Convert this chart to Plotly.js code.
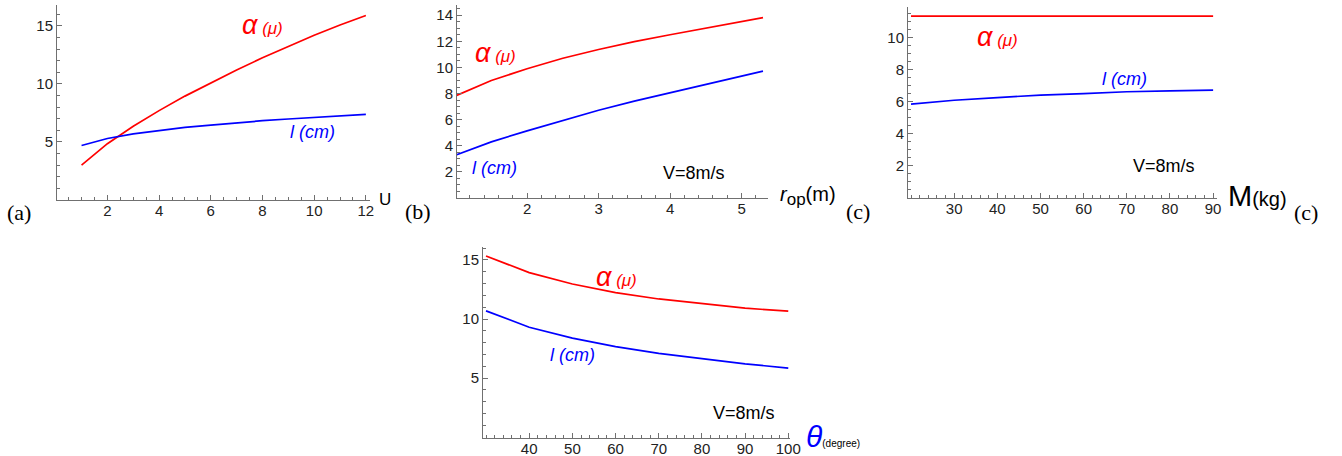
<!DOCTYPE html>
<html>
<head>
<meta charset="utf-8">
<script src="https://cdn.plot.ly/plotly-3.0.1.min.js"></script>
<style>html,body{margin:0;padding:0;background:#fff;}#chart{width:1342px;height:456px;}</style>
</head>
<body>
<div id="chart"></div>
<script>
// Panel (a): vs U
const uVals = [1, 2, 3, 4, 5, 6, 7, 8, 9, 10, 11, 12];
const alphaU = [3.0, 4.85, 6.35, 7.7, 8.95, 10.1, 11.2, 12.25, 13.25, 14.2, 15.08, 15.9];
const lenU = [4.7, 5.3, 5.7, 6.0, 6.25, 6.45, 6.65, 6.83, 6.98, 7.12, 7.25, 7.37];
// Panel (b): vs r_op (m)
const rVals = [1, 1.5, 2, 2.5, 3, 3.5, 4, 4.5, 5, 5.3];
const alphaR = [7.82, 9.0, 9.9, 10.7, 11.37, 11.98, 12.5, 13.0, 13.5, 13.82];
const lenR = [3.28, 4.3, 5.14, 5.95, 6.72, 7.42, 8.07, 8.7, 9.34, 9.72];
// Panel (c): vs M (kg)
const mVals = [20, 30, 40, 50, 60, 70, 80, 90];
const alphaM = [11.35, 11.35, 11.35, 11.35, 11.35, 11.35, 11.35, 11.35];
const lenM = [5.86, 6.1, 6.27, 6.42, 6.52, 6.63, 6.69, 6.73];
// Panel (d): vs theta (degree)
const thVals = [30, 40, 50, 60, 70, 80, 90, 100];
const alphaTh = [15.34, 13.93, 12.97, 12.24, 11.7, 11.28, 10.92, 10.67];
const lenTh = [10.69, 9.31, 8.38, 7.67, 7.1, 6.63, 6.21, 5.85];
// Tick values
const ticksUx = [2, 4, 6, 8, 10, 12];
const ticksUy = [5, 10, 15];
const ticksRx = [2, 3, 4, 5];
const ticksRy = [2, 4, 6, 8, 10, 12, 14];
const ticksMx = [30, 40, 50, 60, 70, 80, 90];
const ticksMy = [2, 4, 6, 8, 10];
const ticksThx = [40, 50, 60, 70, 80, 90, 100];
const ticksThy = [5, 10, 15];

const RED = '#ff0000', BLUE = '#0000ff';
const W = 1342, H = 456;
const px = v => v / W, py = v => 1 - v / H;

function line(x, y, color, xa, ya) {
  return {x: x, y: y, type: 'scatter', mode: 'lines', line: {color: color, width: 1.7},
          xaxis: xa, yaxis: ya, hoverinfo: 'skip'};
}
const data = [
  line(uVals, alphaU, RED, 'x', 'y'), line(uVals, lenU, BLUE, 'x', 'y'),
  line(rVals, alphaR, RED, 'x2', 'y2'), line(rVals, lenR, BLUE, 'x2', 'y2'),
  line(mVals, alphaM, RED, 'x3', 'y3'), line(mVals, lenM, BLUE, 'x3', 'y3'),
  line(thVals, alphaTh, RED, 'x4', 'y4'), line(thVals, lenTh, BLUE, 'x4', 'y4')
];

function ax(domain, range, tickvals, minorDtick, anchor, isX) {
  const a = {
    domain: domain, range: range, anchor: anchor,
    showline: true, linecolor: '#707070', linewidth: 1,
    ticks: 'inside', ticklen: 5, tickwidth: 1, tickcolor: '#707070',
    tickmode: 'array', tickvals: tickvals,
    minor: {ticks: 'inside', ticklen: 3, tickwidth: 1, tickcolor: '#707070',
            tickmode: 'linear', tick0: 0, dtick: minorDtick, showgrid: false},
    showgrid: false, zeroline: false,
    tickfont: {family: 'Liberation Sans, Arial, sans-serif', size: 15, color: '#222'},
    fixedrange: true
  };
  if (isX) a.ticklabelstandoff = -3;
  return a;
}

const SANS = 'Liberation Sans, Arial, sans-serif';
const SERIF = 'Liberation Serif, Times New Roman, serif';
function note(text, x, y, opts) {
  return Object.assign({text: text, x: px(x), y: py(y), xref: 'paper', yref: 'paper',
    showarrow: false, xanchor: 'center', yanchor: 'middle',
    font: {family: SANS, size: 16, color: '#000'}}, opts || {});
}
const alphaTxt = '<i><span style="font-size:27px">α</span> (μ)</i>';
const lenTxt = '<i>l (cm)</i>';

const annotations = [
  note(alphaTxt, 262, 25, {font: {family: SANS, size: 17, color: RED}}),
  note(lenTxt, 312, 132, {font: {family: SANS, size: 18, color: BLUE}}),
  note('U', 385, 199, {font: {family: SANS, size: 17, color: '#000'}}),
  note('(a)', 19, 212, {font: {family: SERIF, size: 22, color: '#000'}}),

  note(alphaTxt, 495, 53, {font: {family: SANS, size: 17, color: RED}}),
  note(lenTxt, 494, 168, {font: {family: SANS, size: 18, color: BLUE}}),
  note('V=8m/s', 694, 173, {font: {family: SANS, size: 18, color: '#000'}}),
  note('<i>r</i><sub><span style="font-size:17px">op</span></sub>(m)', 778, 196,
       {xanchor: 'left', font: {family: SANS, size: 20, color: '#000'}}),
  note('(b)', 418, 211, {font: {family: SERIF, size: 22, color: '#000'}}),

  note(alphaTxt, 997, 37, {font: {family: SANS, size: 17, color: RED}}),
  note(lenTxt, 1124, 79, {font: {family: SANS, size: 18, color: BLUE}}),
  note('V=8m/s', 1164, 166, {font: {family: SANS, size: 18, color: '#000'}}),
  note('<span style="font-size:29px">M</span>(kg)', 1226, 196,
       {xanchor: 'left', font: {family: SANS, size: 20, color: '#000'}}),
  note('(c)', 858, 211, {font: {family: SERIF, size: 22, color: '#000'}}),
  note('(c)', 1306, 212, {font: {family: SERIF, size: 22, color: '#000'}}),

  note(alphaTxt, 616, 277, {font: {family: SANS, size: 17, color: RED}}),
  note(lenTxt, 572, 355, {font: {family: SANS, size: 18, color: BLUE}}),
  note('V=8m/s', 744, 413, {font: {family: SANS, size: 18, color: '#000'}}),
  note('<span style="font-size:30px;fill:#0000ff"><i>θ</i></span>(degree)', 804, 436,
       {xanchor: 'left', font: {family: SANS, size: 10, color: '#000'}})
];

const layout = {
  width: W, height: H, margin: {l: 0, r: 0, t: 0, b: 0},
  paper_bgcolor: '#fff', plot_bgcolor: 'rgba(0,0,0,0)', showlegend: false,
  xaxis: ax([px(57), px(370)], [0.05, 12.16], ticksUx, 0.5, 'y', true),
  yaxis: ax([py(200), py(5)], [0, 16.8], ticksUy, 1, 'x'),
  xaxis2: ax([px(457), px(768)], [1.02, 5.37], ticksRx, 0.2, 'y2', true),
  yaxis2: ax([py(198), py(5)], [0, 14.78], ticksRy, 0.5, 'x2'),
  xaxis3: ax([px(908), px(1217)], [19.3, 90.9], ticksMx, 2, 'y3', true),
  yaxis3: ax([py(198), py(7)], [0, 11.92], ticksMy, 0.5, 'x3'),
  xaxis4: ax([px(483), px(790)], [29.3, 100.4], ticksThx, 2, 'y4', true),
  yaxis4: ax([py(438), py(247)], [-0.07, 16.1], ticksThy, 1, 'x4'),
  annotations: annotations
};

Plotly.newPlot('chart', data, layout, {staticPlot: true, displayModeBar: false});
</script>
</body>
</html>
